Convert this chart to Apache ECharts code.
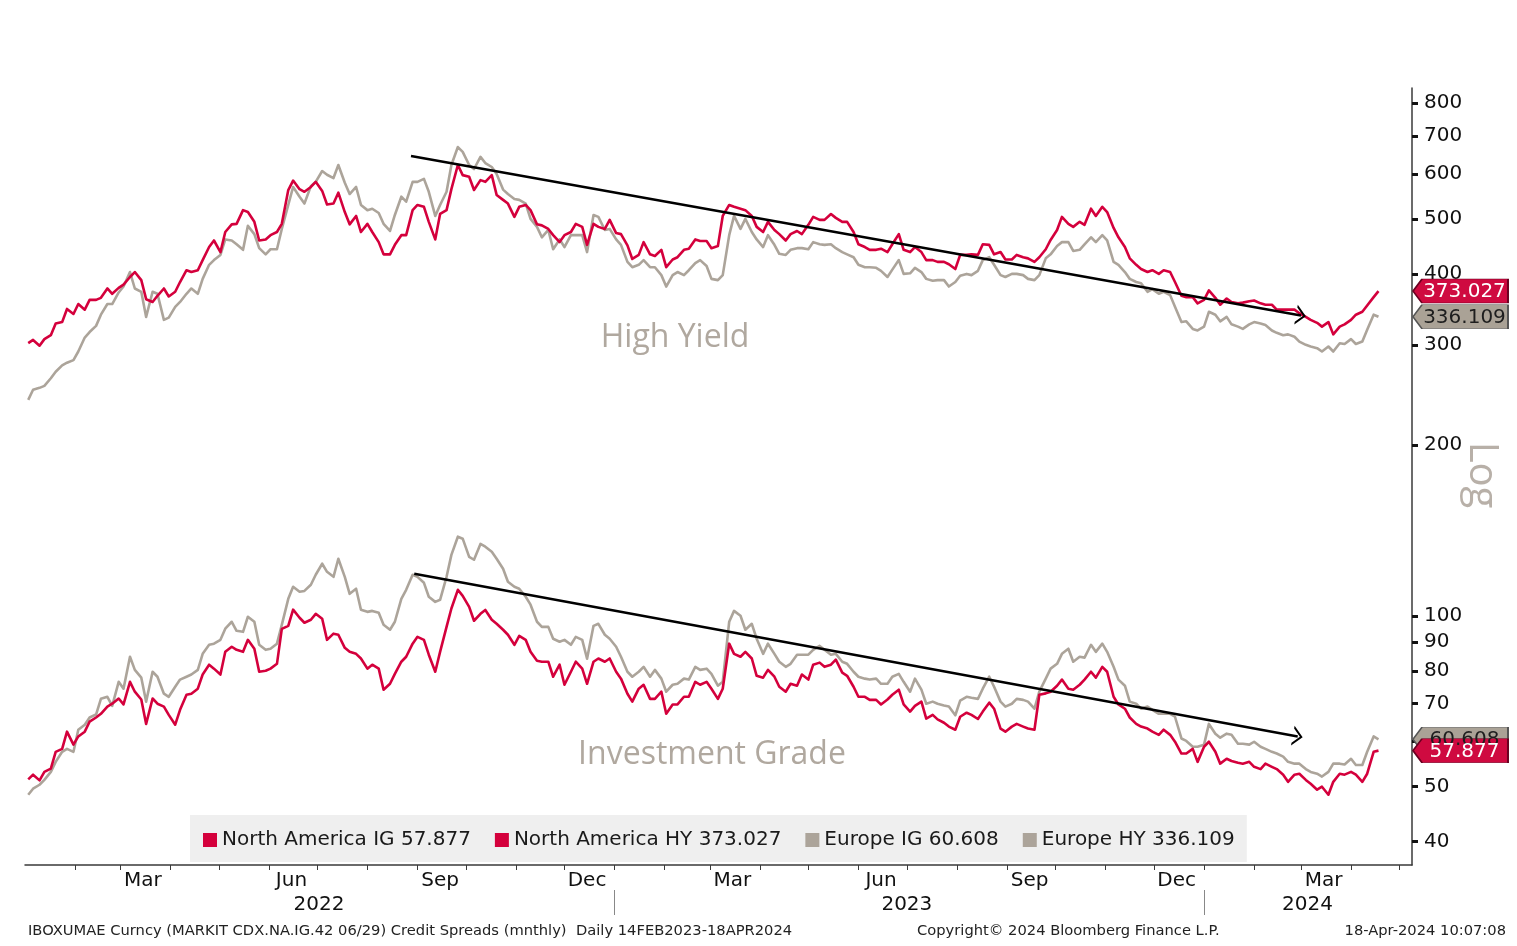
<!DOCTYPE html>
<html>
<head>
<meta charset="utf-8">
<title>Credit Spreads</title>
<script src="https://cdn.jsdelivr.net/npm/echarts@6/dist/echarts.min.js"></script>
<style>
  html, body { margin: 0; padding: 0; background: #ffffff; }
  #chart { width: 1517px; height: 946px; }
</style>
</head>
<body>
<div id="chart"></div>
<script>
// ---- spread levels (bp), sampled Monday / Thursday, 3 Jan 2022 - 18 Apr 2024 ----
const seriesNames = ['North America IG', 'North America HY', 'Europe IG', 'Europe HY'];

const naIg = [
  51.5, 52.5, 51.3, 53.1, 53.8, 57.6, 58.3, 62.5, 59.3, 61.3,
  62.5, 65.1, 66.2, 67.2, 69.2, 70.0, 71.5, 69.8, 76.5, 73.5,
  71.2, 64.5, 71.5, 70.0, 69.2, 66.9, 64.3, 68.3, 72.6, 72.9,
  74.4, 78.8, 82.0, 80.7, 78.8, 86.4, 88.2, 87.1, 86.4, 90.7,
  87.5, 79.7, 80.0, 80.7, 82.3, 94.8, 96.0, 102.5, 99.2, 97.2,
  98.4, 100.8, 98.8, 90.7, 93.0, 92.6, 87.8, 86.4, 85.7, 84.1,
  80.7, 82.0, 80.7, 74.1, 75.9, 79.0, 83.0, 84.7, 89.3, 91.8,
  90.7, 85.4, 79.7, 86.4, 95.6, 103.0, 111.1, 108.4, 103.7, 98.0,
  100.8, 102.4, 98.4, 96.8, 94.5, 92.6, 88.9, 92.2, 90.7, 86.4,
  83.3, 83.0, 83.0, 78.1, 82.0, 75.6, 79.7, 83.0, 80.7, 75.9,
  83.0, 84.1, 83.0, 84.1, 79.7, 77.5, 72.9, 70.6, 74.4, 75.6,
  71.4, 71.4, 73.5, 67.2, 69.8, 69.8, 72.0, 72.0, 76.5, 75.6,
  76.5, 74.4, 71.4, 74.4, 89.3, 85.7, 84.7, 86.4, 84.1, 78.4,
  77.8, 80.3, 78.1, 75.0, 73.5, 75.9, 75.3, 78.8, 77.2, 82.0,
  82.7, 81.3, 82.0, 83.7, 79.4, 78.4, 75.0, 72.0, 72.0, 71.1,
  71.1, 69.8, 71.2, 72.6, 74.1, 69.8, 67.8, 69.4, 70.6, 65.9,
  66.9, 65.7, 64.8, 63.8, 63.0, 66.4, 67.5, 66.9, 65.8, 67.8,
  70.3, 68.6, 63.3, 62.5, 63.8, 64.5, 63.8, 63.3, 63.0, 72.6,
  73.0, 73.5, 75.3, 77.2, 74.4, 74.1, 75.6, 77.2, 79.7, 77.8,
  81.3, 79.7, 72.0, 69.8, 68.6, 66.2, 64.5, 63.8, 63.3, 62.5,
  61.7, 63.0, 61.7, 60.0, 57.2, 57.2, 58.3, 55.3, 58.8, 60.0,
  57.6, 54.9, 56.0, 55.5, 55.1, 54.9, 55.3, 54.2, 53.7, 54.9,
  54.2, 53.7, 52.5, 51.0, 52.5, 52.7, 51.4, 50.6, 49.4, 50.0,
  48.4, 51.0, 52.7, 52.5, 53.1, 52.5, 51.0, 52.7, 57.6, 57.877
];

const naHy = [
  302, 306, 299, 307, 312, 327, 329, 347, 340, 354,
  346, 360, 360, 363, 377, 369, 378, 383, 395, 403,
  390, 361, 357, 366, 377, 365, 372, 387, 406, 403,
  406, 423, 446, 458, 437, 474, 489, 490, 518, 514,
  494, 458, 460, 468, 474, 490, 562, 584, 564, 558,
  569, 581, 560, 530, 532, 556, 514, 489, 506, 474,
  490, 474, 455, 433, 433, 450, 468, 468, 518, 529,
  525, 494, 460, 510, 518, 564, 622, 597, 593, 562,
  585, 581, 597, 551, 540, 532, 504, 525, 529, 518,
  489, 487, 480, 468, 455, 468, 474, 490, 484, 450,
  490, 484, 480, 498, 472, 470, 449, 425, 432, 455,
  433, 430, 441, 411, 424, 428, 441, 443, 460, 457,
  457, 444, 448, 506, 529, 525, 521, 518, 506, 484,
  474, 494, 478, 470, 458, 470, 476, 470, 488, 504,
  498, 498, 510, 502, 494, 494, 474, 451, 446, 441,
  441, 443, 437, 451, 470, 441, 437, 446, 437, 423,
  423, 420, 420, 416, 408, 432, 432, 433, 432, 451,
  450, 433, 437, 424, 424, 432, 428, 426, 420, 428,
  442, 459, 478, 504, 490, 484, 494, 488, 521, 506,
  525, 514, 482, 464, 446, 426, 415, 408, 403, 406,
  400, 406, 403, 387, 366, 364, 364, 355, 360, 374,
  363, 353, 362, 357, 355, 356, 358, 359, 355, 353,
  353, 346, 346, 346, 346, 341, 336, 332, 328, 323,
  329, 313, 323, 326, 332, 339, 343, 352, 364, 373.027
];

const euIg = [
  48.4, 49.6, 50.4, 51.4, 53.1, 55.3, 57.6, 58.3, 57.6, 63.0,
  64.3, 66.2, 67.0, 71.4, 72.0, 69.4, 76.5, 74.4, 84.7, 80.3,
  77.8, 70.6, 79.7, 78.1, 72.9, 72.0, 75.0, 77.2, 78.1, 78.8,
  80.3, 85.7, 88.9, 89.3, 90.7, 94.9, 97.6, 94.1, 93.7, 99.6,
  97.6, 88.9, 87.1, 87.5, 89.3, 96.4, 107.1, 112.5, 110.2, 110.6,
  113.4, 118.1, 123.5, 119.5, 117.1, 126.0, 117.1, 109.3, 111.6, 102.5,
  101.6, 102.0, 101.2, 96.4, 94.5, 97.6, 107.1, 111.1, 118.1, 117.1,
  114.3, 108.0, 105.8, 106.7, 117.1, 128.0, 137.8, 136.7, 127.0, 125.5,
  133.8, 132.3, 129.6, 126.0, 121.0, 114.8, 112.5, 111.6, 108.0, 104.6,
  97.6, 95.6, 95.6, 91.1, 90.0, 90.7, 88.9, 91.8, 90.7, 84.0,
  96.0, 96.8, 92.6, 91.1, 88.2, 84.7, 79.7, 78.1, 79.7, 81.3,
  78.1, 80.3, 77.5, 73.5, 75.6, 75.9, 77.5, 77.2, 81.3, 80.3,
  80.7, 79.0, 75.3, 76.5, 97.6, 102.0, 100.0, 94.5, 96.8, 91.1,
  85.7, 89.3, 85.7, 83.0, 81.3, 82.3, 85.4, 85.4, 85.4, 87.1,
  88.5, 87.1, 85.4, 85.7, 83.0, 82.3, 79.7, 78.1, 77.5, 77.2,
  77.5, 75.9, 75.9, 78.1, 79.0, 76.5, 73.5, 77.5, 74.1, 70.0,
  70.6, 70.0, 69.5, 69.2, 66.8, 70.9, 72.0, 71.7, 71.4, 74.4,
  78.1, 75.0, 70.6, 69.2, 70.0, 71.4, 71.1, 70.6, 68.6, 73.5,
  77.5, 80.7, 82.3, 85.7, 87.5, 83.0, 84.7, 84.4, 88.9, 86.4,
  89.3, 86.4, 81.3, 77.2, 75.3, 70.6, 70.0, 68.6, 69.2, 68.3,
  67.2, 67.2, 67.2, 66.4, 60.8, 60.2, 58.8, 58.8, 59.3, 64.5,
  62.0, 61.0, 62.0, 61.7, 59.5, 59.5, 59.3, 60.0, 58.8, 58.3,
  57.6, 57.2, 56.5, 55.3, 54.9, 54.9, 53.7, 53.1, 52.7, 52.1,
  53.1, 54.9, 54.9, 54.7, 56.0, 54.6, 54.6, 57.6, 61.3, 60.608
];

const euHy = [
  240, 250, 252, 254, 262, 269, 276, 279, 282, 292,
  309, 316, 324, 339, 354, 354, 371, 380, 403, 377,
  372, 336, 372, 369, 332, 335, 350, 357, 369, 377,
  369, 392, 415, 423, 432, 460, 458, 451, 441, 486,
  470, 444, 433, 442, 442, 480, 529, 569, 547, 532,
  571, 581, 607, 598, 590, 622, 579, 553, 569, 529,
  518, 521, 512, 490, 476, 508, 547, 536, 581, 581,
  588, 558, 506, 529, 558, 622, 669, 656, 622, 612,
  643, 627, 617, 600, 563, 553, 542, 540, 532, 500,
  484, 464, 478, 442, 460, 446, 468, 468, 468, 437,
  508, 504, 478, 480, 460, 450, 420, 411, 415, 423,
  411, 411, 398, 380, 398, 403, 398, 406, 418, 423,
  413, 392, 390, 398, 468, 506, 480, 500, 474, 460,
  446, 468, 450, 434, 432, 441, 444, 444, 442, 455,
  451, 450, 451, 444, 437, 433, 428, 415, 411, 411,
  410, 405, 395, 407, 423, 400, 401, 410, 403, 392,
  389, 390, 390, 380, 387, 397, 400, 398, 405, 423,
  428, 415, 398, 395, 400, 400, 398, 392, 390, 398,
  426, 433, 448, 455, 455, 439, 441, 451, 464, 455,
  468, 458, 420, 415, 403, 392, 387, 385, 372, 376,
  369, 372, 367, 350, 329, 330, 320, 318, 323, 343,
  339, 330, 336, 326, 323, 320, 326, 329, 327, 325,
  318, 315, 312, 313, 310, 304, 300, 298, 296, 292,
  298, 292, 302, 301, 307, 301, 304, 319, 339, 336.109
];

// ---- axis labels ----
const monthNames = ['Jan', 'Feb', 'Mar', 'Apr', 'May', 'Jun', 'Jul', 'Aug', 'Sep', 'Oct', 'Nov', 'Dec'];
const monthLabelDates = ['2022-03-15', '2022-06-15', '2022-09-15', '2022-12-15',
                         '2023-03-15', '2023-06-15', '2023-09-15', '2023-12-15', '2024-03-15'];
const yearLabelDates = ['2022-07-02', '2023-07-01', '2024-03-05'];
const yearBreakDates = ['2023-01-01', '2024-01-01'];
const yTicks = [40, 50, 60, 70, 80, 90, 100, 200, 300, 400, 500, 600, 700, 800];

// ---- downtrend arrows ----
const hyTrend = [['2022-08-28', 645], ['2024-03-01', 338]];
const igTrend = [['2022-08-30', 118.6], ['2024-02-28', 61.3]];

const RED = '#d4003c';
const GRAY = '#aca49a';

function day(s) {
  const p = s.split('-').map(Number);
  return new Date(p[0], p[1] - 1, p[2]).getTime();
}

// observation dates: every Monday and Thursday, the last one being 18 Apr 2024
const dates = [];
for (let k = 0; k < naHy.length; k++) {
  dates.push(new Date(2022, 0, 3 + 7 * Math.floor(k / 2) + 3 * (k % 2)).getTime());
}

// first of every month for the minor ticks on the date axis
const monthStarts = [];
for (let m = 1; m <= 28; m++) monthStarts.push(new Date(2022, m, 1).getTime());

const lastOf = {
  'North America IG': naIg[naIg.length - 1],
  'North America HY': naHy[naHy.length - 1],
  'Europe IG': euIg[euIg.length - 1],
  'Europe HY': euHy[euHy.length - 1]
};

const FONT = 'DejaVu Sans';
const TAG_PATH = 'path://M0,12 L9,0 L95,0 L95,24 L9,24 Z';
const CHEVRON = 'path://M0,50 L50,0 L100,50 L86,50 L50,14 L14,50 Z';

function tag(values, fill, border, textColor) {
  const v = values[values.length - 1];
  return {
    symbol: TAG_PATH,
    symbolSize: [95, 24],
    symbolOffset: [82, 0],
    silent: true,
    animation: false,
    itemStyle: { color: fill, borderColor: border, borderWidth: 1 },
    label: {
      show: true, position: 'inside', offset: [4, 1],
      color: textColor, fontSize: 20, fontFamily: FONT,
      formatter: () => v.toFixed(3)
    },
    data: [{ coord: [dates[dates.length - 1], v], value: v }]
  };
}

function trend(pts) {
  return {
    silent: true,
    animation: false,
    symbol: ['none', CHEVRON],
    lineStyle: { color: '#000', width: 2.5, type: 'solid' },
    label: { show: false },
    data: [[
      { coord: [day(pts[0][0]), pts[0][1]] },
      { coord: [day(pts[1][0]), pts[1][1]], symbolSize: [20, 10] }
    ]]
  };
}

function line(name, values, color, extra) {
  return Object.assign({
    name: name,
    type: 'line',
    showSymbol: false,
    symbol: 'none',
    color: color,
    itemStyle: { color: color },
    lineStyle: { color: color, width: 2.6, join: 'round' },
    data: dates.map((d, i) => [d, values[i]])
  }, extra || {});
}

const tMin = day('2022-01-01');
const tMax = new Date(2024, 4, 8, 18).getTime();
const axisColor = '#3a3a3a';

const chart = echarts.init(document.getElementById('chart'), null, { renderer: 'canvas' });

chart.setOption({
  animation: false,
  backgroundColor: '#ffffff',
  grid: { left: 25, right: 105, top: 88, bottom: 81, containLabel: false },
  legend: {
    data: seriesNames,
    left: 190, top: 815,
    backgroundColor: '#efefef',
    padding: [15, 12, 12, 13],
    itemGap: 24,
    itemWidth: 14, itemHeight: 14,
    icon: 'rect',
    selectedMode: false,
    textStyle: { fontSize: 20, fontFamily: FONT, color: '#1a1a1a' },
    formatter: name => name + ' ' + lastOf[name].toFixed(3)
  },
  xAxis: [{
    type: 'value',
    min: tMin, max: tMax,
    position: 'bottom',
    splitLine: { show: false },
    axisLine: { show: true, onZero: false, lineStyle: { color: axisColor, width: 1.5 } },
    axisTick: { show: true, customValues: monthStarts, length: 5, lineStyle: { color: axisColor, width: 1 } },
    axisLabel: {
      customValues: monthLabelDates.map(day),
      formatter: v => monthNames[new Date(v).getMonth()],
      margin: 6, fontSize: 20, fontFamily: FONT, color: '#111'
    }
  }, {
    type: 'value',
    min: tMin, max: tMax,
    position: 'bottom',
    offset: 25,
    splitLine: { show: false },
    axisLine: { show: false, onZero: false },
    axisTick: { show: true, customValues: yearBreakDates.map(day), length: 25, lineStyle: { color: '#888', width: 1 } },
    axisLabel: {
      customValues: yearLabelDates.map(day),
      formatter: v => String(new Date(v).getFullYear()),
      margin: 5, fontSize: 20, fontFamily: FONT, color: '#111'
    }
  }],
  yAxis: {
    type: 'log', logBase: 10,
    position: 'right',
    min: 36.4, max: 850,
    splitLine: { show: false },
    axisLine: { show: true, lineStyle: { color: axisColor, width: 1.5 } },
    axisTick: { show: true, inside: false, length: 6, customValues: yTicks, lineStyle: { color: '#111', width: 3 } },
    axisLabel: { customValues: yTicks, margin: 12, fontSize: 20, fontFamily: FONT, color: '#111' }
  },
  series: [
    line('Europe IG', euIg, GRAY, { markPoint: tag(euIg, '#aaa296', '#555', '#1e1e1e') }),
    line('Europe HY', euHy, GRAY, { markPoint: tag(euHy, '#aaa296', '#555', '#1e1e1e') }),
    line('North America IG', naIg, RED, { markPoint: tag(naIg, '#cf0a40', '#6a0020', '#ffffff'), markLine: trend(igTrend) }),
    line('North America HY', naHy, RED, { markPoint: tag(naHy, '#cf0a40', '#6a0020', '#ffffff'), markLine: trend(hyTrend) })
  ],
  graphic: [
    { type: 'text', x: 675, y: 338, silent: true,
      style: { text: 'High Yield', fontSize: 32, fontFamily: 'Open Sans', fill: '#b0a89f', textAlign: 'center', textVerticalAlign: 'middle' } },
    { type: 'text', x: 712, y: 755, silent: true,
      style: { text: 'Investment Grade', fontSize: 32, fontFamily: 'Open Sans', fill: '#b0a89f', textAlign: 'center', textVerticalAlign: 'middle' } },
    { type: 'text', x: 1481, y: 475, rotation: -Math.PI / 2, silent: true,
      style: { text: 'Log', fontSize: 40, fontFamily: 'Open Sans', fill: '#b8b0a8', textAlign: 'center', textVerticalAlign: 'middle' } },
    { type: 'text', x: 28, y: 931, silent: true,
      style: { text: 'IBOXUMAE Curncy (MARKIT CDX.NA.IG.42 06/29) Credit Spreads (mnthly)  Daily 14FEB2023-18APR2024',
               fontSize: 14.7, fontFamily: FONT, fill: '#222', textVerticalAlign: 'middle' } },
    { type: 'text', x: 917, y: 931, silent: true,
      style: { text: 'Copyright\u00A9 2024 Bloomberg Finance L.P.', fontSize: 14.7, fontFamily: FONT, fill: '#222', textVerticalAlign: 'middle' } },
    { type: 'text', x: 1506, y: 931, silent: true,
      style: { text: '18-Apr-2024 10:07:08', fontSize: 14.7, fontFamily: FONT, fill: '#222', textAlign: 'right', textVerticalAlign: 'middle' } }
  ]
});
</script>
</body>
</html>
